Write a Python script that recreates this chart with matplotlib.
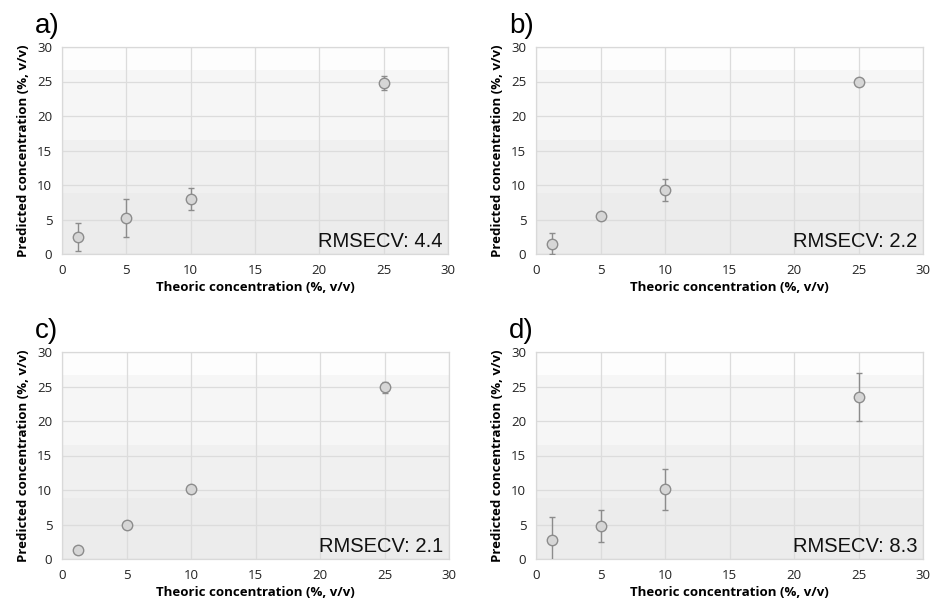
import numpy as np
import matplotlib
matplotlib.use("Agg")
from matplotlib import pyplot as plt

# theoretical concentrations (%, v/v)
theoric = [1.25, 5, 10, 25]

# predicted mean and error (half-width) per panel
pred_a = [2.5, 5.2, 8.0, 24.8]
err_a = [2.0, 2.7, 1.6, 1.0]
pred_b = [1.5, 5.5, 9.3, 25.0]
err_b = [1.5, 0.3, 1.6, 0.2]
pred_c = [1.3, 4.9, 10.1, 24.9]
err_c = [0.2, 0.3, 0.5, 0.8]
pred_d = [2.8, 4.8, 10.1, 23.5]
err_d = [3.3, 2.3, 3.0, 3.5]

panel_labels = ["a)", "b)", "c)", "d)"]
rmsecv = ["4.4", "2.2", "2.1", "8.3"]
ticks = [0, 5, 10, 15, 20, 25, 30]

W, H = 932, 606
fig = plt.figure(figsize=(W / 100, H / 100), dpi=100)

# axes boxes in pixels: left, top, right, bottom
boxes = [(62, 47, 448, 254), (536, 47, 923, 254),
         (62, 352, 449, 559), (536, 352, 923, 559)]
preds = [pred_a, pred_b, pred_c, pred_d]
errs = [err_a, err_b, err_c, err_d]

# stepped grey background, light at top
bands = [(0, 8.8, "#ececec"), (8.8, 16.5, "#f0f0f0"),
         (16.5, 26.7, "#f6f6f6"), (26.7, 30, "#fdfdfd")]

for i in range(4):
    l, t, r, b = boxes[i]
    ax = fig.add_axes([l / W, 1 - b / H, (r - l) / W, (b - t) / H])
    for y0, y1, c in bands:
        ax.axhspan(y0, y1, color=c, zorder=0, lw=0)
    ax.set_xlim(0, 30)
    ax.set_ylim(0, 30)
    ax.set_xticks(ticks)
    ax.set_yticks(ticks)
    ax.grid(True, color="#dcdcdc", lw=0.9, zorder=1)
    ax.set_axisbelow(True)
    for s in ax.spines.values():
        s.set_color("#d9d9d9")
        s.set_linewidth(0.9)
    ax.tick_params(length=0, labelsize=9.5, colors="#222222", pad=7)
    for lab in ax.get_xticklabels() + ax.get_yticklabels():
        lab.set_family("Open Sans")

    ax.errorbar(theoric, preds[i], yerr=errs[i], fmt="o", ms=7.5,
                mfc="#d6d6d6", mec="#8c8c8c", mew=1.0,
                ecolor="#8c8c8c", elinewidth=1.0, capsize=2.5, capthick=1.0,
                zorder=3, clip_on=True)

    ax.set_xlabel("Theoric concentration (%, v/v)", fontsize=9.5,
                  fontweight="bold", family="Open Sans", labelpad=3)
    ax.set_ylabel("Predicted concentration (%, v/v)", fontsize=9.5,
                  fontweight="bold", family="Open Sans", labelpad=5)

    ax.text(0.985, 0.015, "RMSECV: " + rmsecv[i], transform=ax.transAxes,
            ha="right", va="bottom", fontsize=14.5,
            family="Liberation Sans", color="#111111", zorder=4)

    fig.text((l - 27) / W, 1 - (t - 34) / H, panel_labels[i],
             fontsize=20, family="Liberation Sans", va="top", ha="left")

fig.savefig("out.png", dpi=100, facecolor="white")
